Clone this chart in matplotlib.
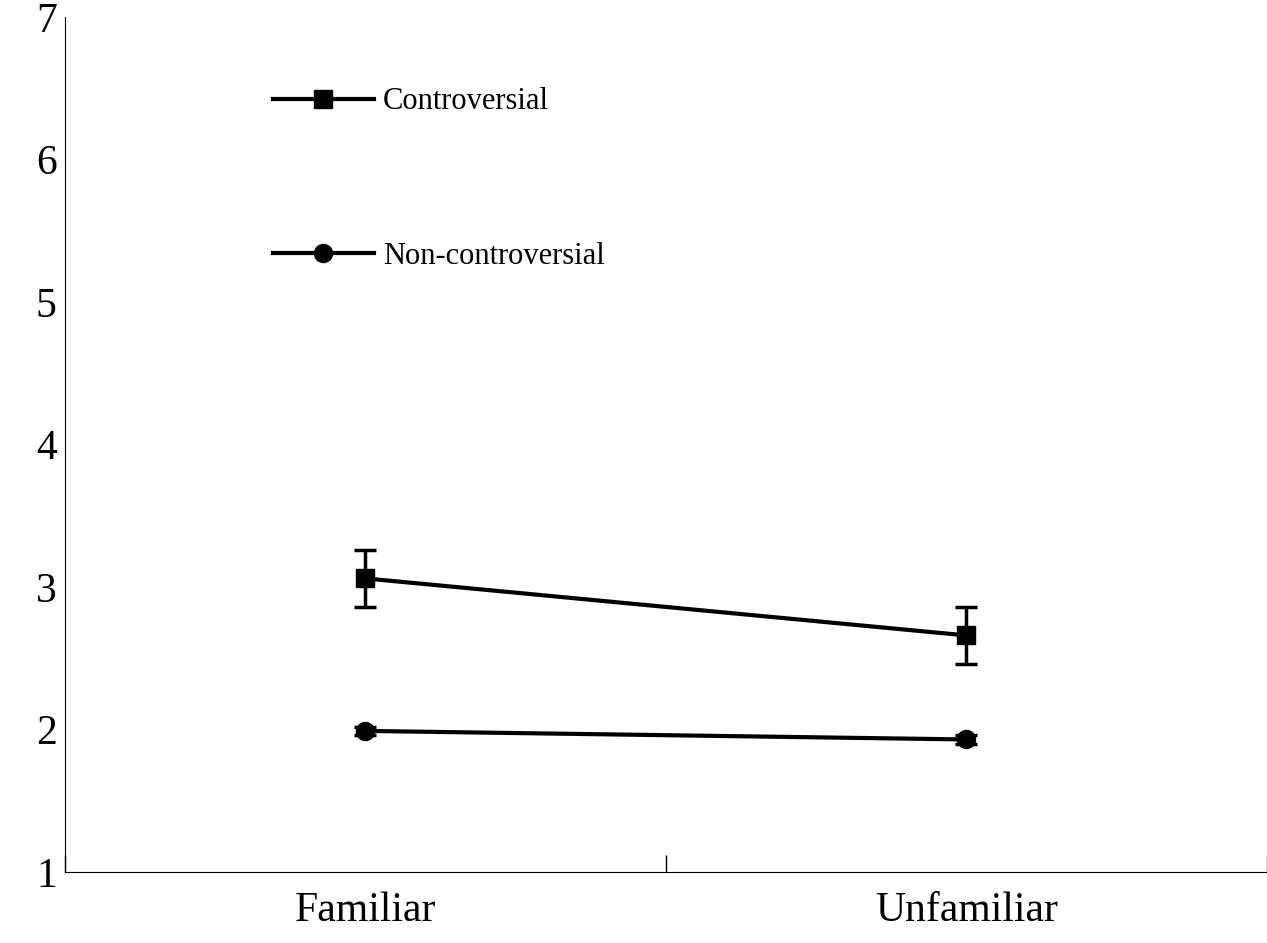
import matplotlib
matplotlib.use('Agg')
import matplotlib.pyplot as plt

conditions = ['Familiar', 'Unfamiliar']
controversial = [3.06, 2.66]
controversial_err = [0.20, 0.20]
noncontroversial = [1.99, 1.93]
noncontroversial_err = [0.03, 0.03]

plt.rcParams['font.family'] = ['Liberation Serif', 'DejaVu Serif']

fig = plt.figure(figsize=(12.67, 9.43), dpi=100)
ax = fig.add_axes([0.0513, 0.0753, 0.9487, 0.9067])

xpos = [0.5, 1.5]
ax.errorbar(xpos, controversial, yerr=controversial_err, color='black', lw=3,
            marker='s', ms=13, capsize=8, elinewidth=2.5, capthick=2.5,
            label='Controversial')
ax.errorbar(xpos, noncontroversial, yerr=noncontroversial_err, color='black', lw=3,
            marker='o', ms=13, capsize=8, elinewidth=2.5, capthick=2.5,
            label='Non-controversial')

ax.set_xlim(0, 2)
ax.set_ylim(1, 7)
ax.set_yticks(range(1, 8))
ax.set_xticks([0, 1, 2])
ax.set_xticklabels([])
ax.set_xticks(xpos, minor=True)
ax.set_xticklabels(conditions, minor=True)
ax.tick_params(axis='x', which='minor', length=0, pad=14, labelsize=30)
ax.tick_params(axis='x', which='major', direction='in', length=12, width=1)
ax.tick_params(axis='y', length=0, pad=6, labelsize=30)
for s in ['top', 'right']:
    ax.spines[s].set_visible(False)

handles, labels = ax.get_legend_handles_labels()
handles = [h[0] for h in handles]
ax.legend(handles, labels, loc='upper left', bbox_to_anchor=(0.15, 0.95),
          frameon=False, fontsize=22, handlelength=3.3, labelspacing=4.1,
          handletextpad=0.3)

fig.savefig('out.png', dpi=100)
